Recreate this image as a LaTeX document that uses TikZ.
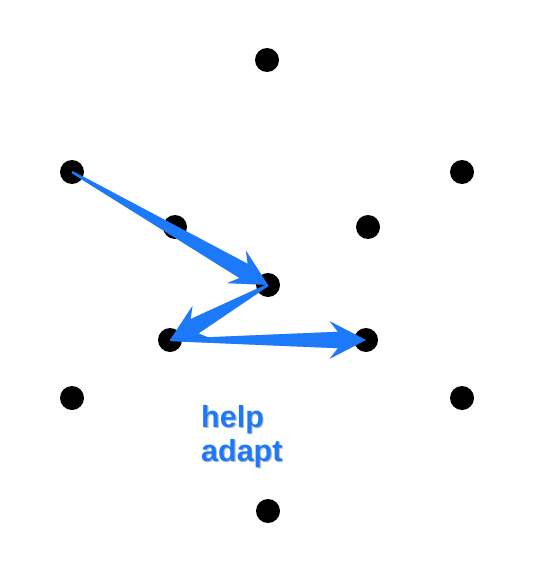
\documentclass[tikz,border=0pt]{standalone}
\usepackage{fontspec}
\setsansfont{Liberation Sans}
\usetikzlibrary{calc}

\definecolor{arrowblue}{RGB}{28,122,250}

% tapered arrow from node #1 to node #2, with a soft shadow
\newcommand{\taperpath}[2]{%
  ($(#1.center)!1pt!90:(#2.center)$) -- ($(hb)!7pt!90:(#2.center)$) -- ($(bb)!16pt!90:(#2.center)$) -- (#2.center)
    -- ($(bb)!16pt!-90:(#2.center)$) -- ($(hb)!7pt!-90:(#2.center)$) -- ($(#1.center)!1pt!-90:(#2.center)$) -- cycle}
\newcommand{\taperarrow}[2]{%
  \coordinate (hb) at ($(#2.center)!24pt!(#1.center)$);
  \coordinate (bb) at ($(#2.center)!31pt!(#1.center)$);
  \fill[arrowshadow, xshift=1pt, yshift=-1.5pt] \taperpath{#1}{#2};
  \fill[arrowfill] \taperpath{#1}{#2};
}

\begin{document}
\begin{tikzpicture}[
        x=0.03cm, y=-0.03cm,
        dot/.style={circle, fill=black, inner sep=0pt, minimum size=0.72cm},
        arrowfill/.style={fill=arrowblue},
        arrowshadow/.style={fill=black, opacity=0.3},
        tag/.style={align=left, inner sep=0pt, anchor=north west, font=\sffamily\bfseries\fontsize{26}{29}\selectfont}
      ]

      \useasboundingbox (0,0) rectangle (538,563);

      \node (T) at(267, 60) [dot] {};
      \node (UL) at(72, 172) [dot] {};
      \node (UR) at(462, 172) [dot] {};
      \node (IUL) at(175, 227) [dot] {};
      \node (IUR) at(368, 227) [dot] {};
      \node (C) at(268, 285) [dot] {};
      \node (ILL) at(170, 340) [dot] {};
      \node (ILR) at(366, 340) [dot] {};
      \node (LL) at(72, 398) [dot] {};
      \node (LR) at(462, 398) [dot] {};
      \node (B) at(268, 511) [dot] {};

      \taperarrow{UL}{C}
      \taperarrow{C}{ILL}
      \taperarrow{ILL}{ILR}

      \node (helpshadow) at(201, 405) [tag, text=black!25, xshift=1pt, yshift=-1pt] {help\\adapt};
      \node (help) at(201, 405) [tag, text=arrowblue] {help\\adapt};
    \end{tikzpicture}
\end{document}
